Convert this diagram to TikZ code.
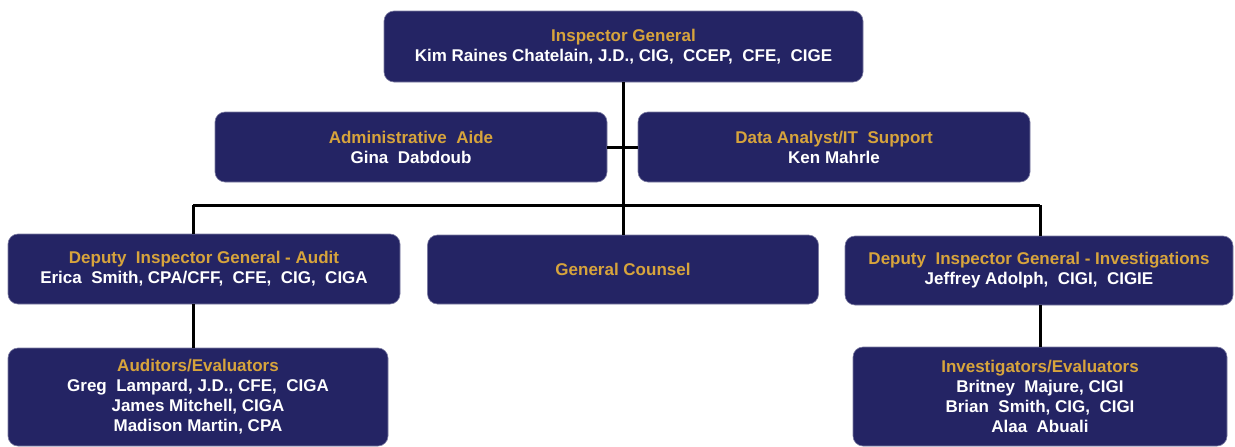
\documentclass[tikz,border=0pt]{standalone}
\usepackage{fontspec}
\setmainfont{Liberation Sans}
\usetikzlibrary{positioning}

\definecolor{ignavy}{RGB}{36,36,100}
\definecolor{iggold}{RGB}{215,164,60}

\tikzset{
  orgbox/.style={rectangle,rounded corners=10pt,fill=ignavy,draw=ignavy!60!white,
    line width=0.6pt,text=white,align=center,inner sep=2pt,
    font=\bfseries\fontsize{17}{20}\selectfont},
  orgline/.style={line width=3pt,black}
}
\newcommand{\post}[1]{\textcolor{iggold}{#1}}

\begin{document}
\begin{tikzpicture}[x=1pt,y=-1pt]
    \useasboundingbox [fill=white] (0,0) rectangle (1235,447);

    \node [orgbox,minimum width=479pt,minimum height=71pt] (ig) at (623.5,46.5)
    {\post{Inspector General}\\Kim Raines Chatelain, J.D., CIG,\ \ CCEP,\ \ CFE,\ \ CIGE};

    \node [orgbox,minimum width=392pt,minimum height=70pt] (aide) at (411,147)
    {\post{Administrative\ \ Aide}\\Gina\ \ Dabdoub};

    \node [orgbox,minimum width=392pt,minimum height=70pt] (data) at (834,147)
    {\post{Data Analyst/IT\ \ Support}\\Ken Mahrle};

    \node [orgbox,minimum width=392pt,minimum height=70pt] (audit) at (204,269)
    {\post{Deputy\ \ Inspector General - Audit}\\Erica\ \ Smith, CPA/CFF,\ \ CFE,\ \ CIG,\ \ CIGA};

    \node [orgbox,minimum width=391pt,minimum height=69pt] (counsel) at (623,269.5)
    {\post{General Counsel}};

    \node [orgbox,minimum width=388pt,minimum height=69pt] (invest) at (1039,270.5)
    {\post{Deputy\ \ Inspector General - Investigations}\\Jeffrey Adolph,\ \ CIGI,\ \ CIGIE};

    \node [orgbox,minimum width=380pt,minimum height=98pt] (auditors) at (198,397)
    {\post{Auditors/Evaluators}\\Greg\ \ Lampard, J.D., CFE,\ \ CIGA\\James Mitchell, CIGA\\Madison Martin, CPA};

    \node [orgbox,minimum width=374pt,minimum height=99pt] (investigators) at (1040,396.5)
    {\post{Investigators/Evaluators}\\Britney\ \ Majure, CIGI\\Brian\ \ Smith, CIG,\ \ CIGI\\Alaa\ \ Abuali};

    \coordinate (busL) at (193,205);
    \coordinate (busR) at (1040,205);

    \draw [orgline] (ig.south) -- (ig.south |- counsel.north);
    \draw [orgline] (aide.east) -- (data.west);
    \draw [orgline] (busL) -- (busR);

    \draw [orgline] (busL) -- (busL |- audit.north);
    \draw [orgline] (busL |- audit.south) -- (busL |- auditors.north);

    \draw [orgline] (busR) -- (busR |- invest.north);
    \draw [orgline] (busR |- invest.south) -- (busR |- investigators.north);
  \end{tikzpicture}
\end{document}
